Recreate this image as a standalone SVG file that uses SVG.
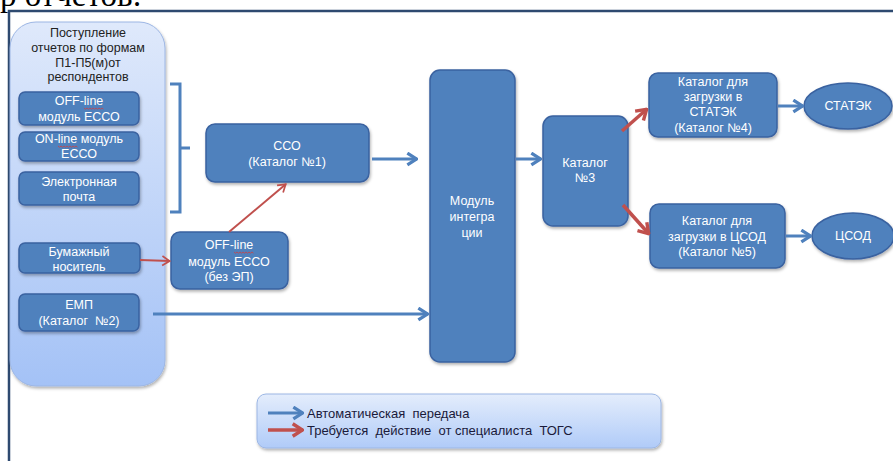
<svg xmlns="http://www.w3.org/2000/svg" width="893" height="461" viewBox="0 0 893 461">
<defs>
<style>
.n{fill:#4f81bd;stroke:#3a62a0;stroke-width:1.5}
.t{font-family:"Liberation Sans",Arial,sans-serif;font-size:12.5px;fill:#ffffff;text-anchor:middle}
.d{font-family:"Liberation Sans",Arial,sans-serif;font-size:12.5px;fill:#222222;text-anchor:middle}
.lg{font-family:"Liberation Sans",Arial,sans-serif;font-size:13px;fill:#1a1a3a}
.b{fill:none;stroke:#4f81bd;stroke-width:3}
.r{fill:none;stroke:#c0504d;stroke-width:2}
.rr{fill:none;stroke:#c0504d;stroke-width:3.5}
.sq{fill:none;stroke:#d04040;stroke-width:0.8}
</style>
<linearGradient id="gp" x1="0" y1="0" x2="0" y2="1">
<stop offset="0" stop-color="#dfe9fb"/>
<stop offset="1" stop-color="#a4c2f6"/>
</linearGradient>
<linearGradient id="gl" x1="0" y1="0" x2="0" y2="1">
<stop offset="0" stop-color="#e4edfc"/>
<stop offset="1" stop-color="#b0cbf8"/>
</linearGradient>
<filter id="sh" x="-10%" y="-10%" width="130%" height="130%">
<feDropShadow dx="1" dy="2" stdDeviation="1.5" flood-color="#000" flood-opacity="0.3"/>
</filter>
<marker id="ab" viewBox="0 0 12 14" refX="11" refY="7" markerWidth="13" markerHeight="15" markerUnits="userSpaceOnUse" orient="auto">
<path d="M2,1.5 L10.5,7 L2,12.5" fill="none" stroke="#4f81bd" stroke-width="3"/>
</marker>
<marker id="ar" viewBox="0 0 12 14" refX="11" refY="7" markerWidth="11" markerHeight="12" markerUnits="userSpaceOnUse" orient="auto">
<path d="M2,1.5 L10.5,7 L2,12.5" fill="none" stroke="#c0504d" stroke-width="2"/>
</marker>
<marker id="arr" viewBox="0 0 12 14" refX="11" refY="7" markerWidth="14" markerHeight="16" markerUnits="userSpaceOnUse" orient="auto">
<path d="M2,1.5 L10.5,7 L2,12.5" fill="none" stroke="#c0504d" stroke-width="3"/>
</marker>
</defs>
<rect x="0" y="0" width="893" height="461" fill="#ffffff"/>
<text x="0" y="6" font-family="Liberation Serif,serif" font-size="33" fill="#000">р отчетов:</text>
<path d="M9,461 V11 H893" fill="none" stroke="#2e4a70" stroke-width="2.5"/>

<g id="panel">
<rect x="10" y="22" width="155" height="364" rx="26" fill="url(#gp)" stroke="#9cb6e4" stroke-width="1" filter="url(#sh)"/>
<text class="d" x="88" y="37">Поступление</text>
<text class="d" x="88" y="52">отчетов по формам</text>
<text class="d" x="88" y="67">П1-П5(м)от</text>
<text class="d" x="88" y="81">респондентов</text>
</g>

<g id="offline">
<rect class="n" x="19" y="92" width="120" height="33" rx="6" filter="url(#sh)"/>
<text class="t" x="79" y="105">OFF-line</text>
<text class="t" x="79" y="121">модуль ЕССО</text>
<path class="sq" d="M84,108 l1.5,1.2 l1.5,-1.2 l1.5,1.2 l1.5,-1.2 l1.5,1.2 l1.5,-1.2 l1.5,1.2 l1.5,-1.2 l1.5,1.2 l1.5,-1.2 l1.5,1.2 l1.5,-1.2 l1.5,1.2"/>
</g>
<g id="online">
<rect class="n" x="19" y="132" width="120" height="29" rx="6" filter="url(#sh)"/>
<text class="t" x="79" y="143">ON-line модуль</text>
<text class="t" x="79" y="158">ЕССО</text>
<path class="sq" d="M58,146 l1.5,1.2 l1.5,-1.2 l1.5,1.2 l1.5,-1.2 l1.5,1.2 l1.5,-1.2 l1.5,1.2 l1.5,-1.2 l1.5,1.2 l1.5,-1.2 l1.5,1.2 l1.5,-1.2 l1.5,1.2"/>
</g>
<g id="email">
<rect class="n" x="19" y="172" width="120" height="33" rx="6" filter="url(#sh)"/>
<text class="t" x="79" y="186">Электронная</text>
<text class="t" x="79" y="201">почта</text>
</g>
<g id="paper">
<rect class="n" x="19" y="243" width="121" height="30" rx="6" filter="url(#sh)"/>
<text class="t" x="79" y="256">Бумажный</text>
<text class="t" x="79" y="271">носитель</text>
</g>
<g id="emp">
<rect class="n" x="19" y="294" width="120" height="37" rx="6" filter="url(#sh)"/>
<text class="t" x="79" y="309">ЕМП</text>
<text class="t" x="79" y="325" xml:space="preserve">(Каталог  №2)</text>
</g>

<g id="sso">
<rect class="n" x="206" y="124" width="163" height="58" rx="9" filter="url(#sh)"/>
<text class="t" x="287" y="150">ССО</text>
<text class="t" x="287" y="166">(Каталог №1)</text>
</g>
<g id="offline2">
<rect class="n" x="171" y="232" width="117" height="57" rx="9" filter="url(#sh)"/>
<text class="t" x="229" y="249">OFF-line</text>
<text class="t" x="229" y="266">модуль ЕССО</text>
<text class="t" x="229" y="281">(без ЭП)</text>
<path class="sq" d="M234,252 l1.5,1.2 l1.5,-1.2 l1.5,1.2 l1.5,-1.2 l1.5,1.2 l1.5,-1.2 l1.5,1.2 l1.5,-1.2 l1.5,1.2 l1.5,-1.2 l1.5,1.2 l1.5,-1.2 l1.5,1.2"/>
</g>
<g id="integ">
<rect class="n" x="430" y="70" width="85" height="292" rx="10" filter="url(#sh)"/>
<text class="t" x="472" y="205">Модуль</text>
<text class="t" x="472" y="221">интегра</text>
<text class="t" x="472" y="237">ции</text>
</g>
<g id="cat3">
<rect class="n" x="543" y="116" width="85" height="110" rx="10" filter="url(#sh)"/>
<text class="t" x="585" y="167">Каталог</text>
<text class="t" x="585" y="182">№3</text>
</g>
<g id="cat4">
<rect class="n" x="649" y="73" width="128" height="64" rx="9" filter="url(#sh)"/>
<text class="t" x="713" y="86">Каталог для</text>
<text class="t" x="713" y="101">загрузки в</text>
<text class="t" x="713" y="116">СТАТЭК</text>
<text class="t" x="713" y="132">(Каталог №4)</text>
</g>
<g id="cat5">
<rect class="n" x="650" y="204" width="135" height="64" rx="9" filter="url(#sh)"/>
<text class="t" x="717" y="225">Каталог для</text>
<text class="t" x="717" y="241">загрузки в ЦСОД</text>
<text class="t" x="717" y="256">(Каталог №5)</text>
</g>
<g id="statek">
<ellipse class="n" cx="848" cy="106" rx="44" ry="23" filter="url(#sh)"/>
<text class="t" x="848" y="110">СТАТЭК</text>
</g>
<g id="csod">
<ellipse class="n" cx="853" cy="236" rx="41" ry="23" filter="url(#sh)"/>
<text class="t" x="853" y="240">ЦСОД</text>
</g>

<g id="connectors">
<path d="M170,84 H180 V212 H170 M180,148 H190" fill="none" stroke="#4f81bd" stroke-width="3"/>
<line class="b" x1="372" y1="159" x2="417" y2="159" marker-end="url(#ab)"/>
<line class="b" x1="153" y1="314" x2="428" y2="314" marker-end="url(#ab)"/>
<line class="b" x1="516" y1="159" x2="541" y2="159" marker-end="url(#ab)"/>
<line class="b" x1="778" y1="106" x2="803" y2="106" marker-end="url(#ab)"/>
<line class="b" x1="786" y1="236" x2="811" y2="236" marker-end="url(#ab)"/>
<line class="r" x1="140" y1="260" x2="170" y2="261" marker-end="url(#ar)"/>
<line class="r" x1="229" y1="232" x2="286" y2="184" marker-end="url(#ar)"/>
<line class="rr" x1="622" y1="131" x2="647" y2="109" marker-end="url(#arr)"/>
<line class="rr" x1="623" y1="205" x2="649" y2="234" marker-end="url(#arr)"/>
</g>

<g id="legend">
<rect x="257" y="394" width="404" height="54" rx="9" fill="url(#gl)" stroke="#9cb6e4" stroke-width="1" filter="url(#sh)"/>
<line class="b" x1="268" y1="413" x2="303" y2="413" marker-end="url(#ab)"/>
<line class="rr" x1="268" y1="430" x2="303" y2="430" marker-end="url(#arr)"/>
<text class="lg" x="307" y="418" xml:space="preserve">Автоматическая  передача</text>
<text class="lg" x="307" y="435" xml:space="preserve">Требуется  действие  от специалиста  ТОГС</text>
</g>
</svg>
